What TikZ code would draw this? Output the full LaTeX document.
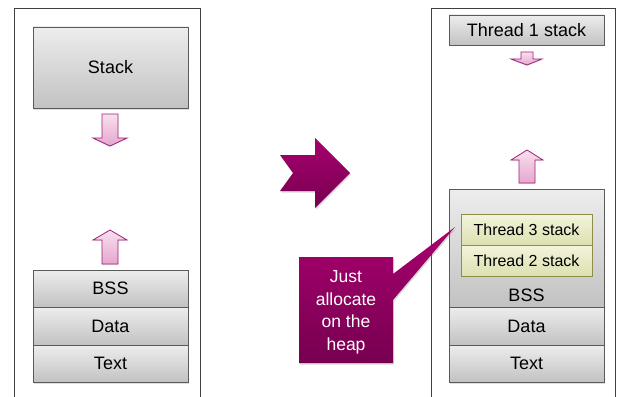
\documentclass[tikz,border=0pt]{standalone}
\usepackage{fontspec}
\setmainfont{Liberation Sans}
\usetikzlibrary{shadows}
\definecolor{boxline}{HTML}{5A5A5A}
\definecolor{boxtop}{HTML}{EDEDED}
\definecolor{boxbot}{HTML}{C2C2C2}
\definecolor{thrtop}{HTML}{F3F4DC}
\definecolor{thrbot}{HTML}{DDE0B0}
\definecolor{thrline}{HTML}{8E8E4A}
\definecolor{pinktop}{HTML}{F8E0EE}
\definecolor{pinkbot}{HTML}{E6A6CE}
\definecolor{pinkline}{HTML}{A0207A}
\definecolor{magtop}{HTML}{A8006E}
\definecolor{magbot}{HTML}{760050}
\definecolor{panelline}{HTML}{404040}
\tikzset{
  seg/.style={draw=boxline, line width=0.9pt, top color=boxtop, bottom color=boxbot,
    minimum width=155pt, inner sep=0pt, font=\fontsize{18}{20}\selectfont,
    drop shadow={shadow xshift=1pt, shadow yshift=-1.5pt, opacity=0.25}},
  thr/.style={draw=thrline, line width=0.9pt, top color=thrtop, bottom color=thrbot,
    minimum width=131pt, minimum height=31pt, inner sep=0pt, font=\fontsize{16}{18}\selectfont},
  panel/.style={draw=panelline, line width=0.8pt},
  pinkarrow/.style={draw=pinkline, line width=0.8pt, top color=pinktop, bottom color=pinkbot,
    drop shadow={shadow xshift=0pt, shadow yshift=-1pt, opacity=0.25}},
  magshape/.style={top color=magtop, bottom color=magbot,
    drop shadow={shadow xshift=1pt, shadow yshift=-1.5pt, opacity=0.3}},
}
\begin{document}
\begin{tikzpicture}[x=1pt,y=-1pt]
\useasboundingbox (0,0) rectangle (623,396);
% panels
\draw[panel] (14,397) -- (14,8) -- (200,8) -- (200,397);
\draw[panel] (431,397) -- (431,8) -- (615,8) -- (615,397);
% left column
\node[seg, minimum height=81pt] (stack) at (110.5,67.5) {Stack};
\node[seg, minimum height=37pt] (bss) at (110.5,288.5) {BSS};
\node[seg, minimum height=38pt] (data) at (110.5,326) {Data};
\node[seg, minimum height=37pt] (text) at (110.5,363.5) {Text};
% left arrows
\path[pinkarrow] (102,114) -- (118,114) -- (118,138) -- (127,138) -- (110,146) -- (93,138) -- (102,138) -- cycle;
\path[pinkarrow] (102,264) -- (118,264) -- (118,240) -- (127,240) -- (110,230) -- (93,240) -- (102,240) -- cycle;
% right column
\node[seg, minimum height=30pt] (t1) at (526.5,30) {Thread 1 stack};
\node[seg, minimum height=118pt] (bssbig) at (526.5,248) {};
\node[thr] (t3) at (526.5,229.5) {Thread 3 stack};
\node[thr] (t2) at (526.5,260.5) {Thread 2 stack};
\node[font=\fontsize{18}{20}\selectfont, inner sep=0pt] (bsslabel) at (526.5,295) {BSS};
\node[seg, minimum height=38pt] (data2) at (526.5,326) {Data};
\node[seg, minimum height=37pt] (text2) at (526.5,363.5) {Text};
% right arrows
\path[pinkarrow] (521,52) -- (533,52) -- (533,59) -- (542,59) -- (527,65) -- (511,59) -- (521,59) -- cycle;
\path[pinkarrow] (519,183) -- (535,183) -- (535,160) -- (543,160) -- (527,150) -- (511,160) -- (519,160) -- cycle;
% chevron
\path[magshape] (280,155) -- (315,155) -- (315,138) -- (350,173) -- (315,208) -- (315,191) -- (280,191) -- (293,173) -- cycle;
% callout
\path[magshape] (299,257) -- (393,257) -- (393,274) -- (455,227) -- (393,300) -- (393,363) -- (299,363) -- cycle;
\node[text=white, align=center, font=\fontsize{17.5}{22.5}\selectfont, inner sep=0pt] (callout) at (346,312.5) {Just\\allocate\\on the\\heap};
\end{tikzpicture}
\end{document}
